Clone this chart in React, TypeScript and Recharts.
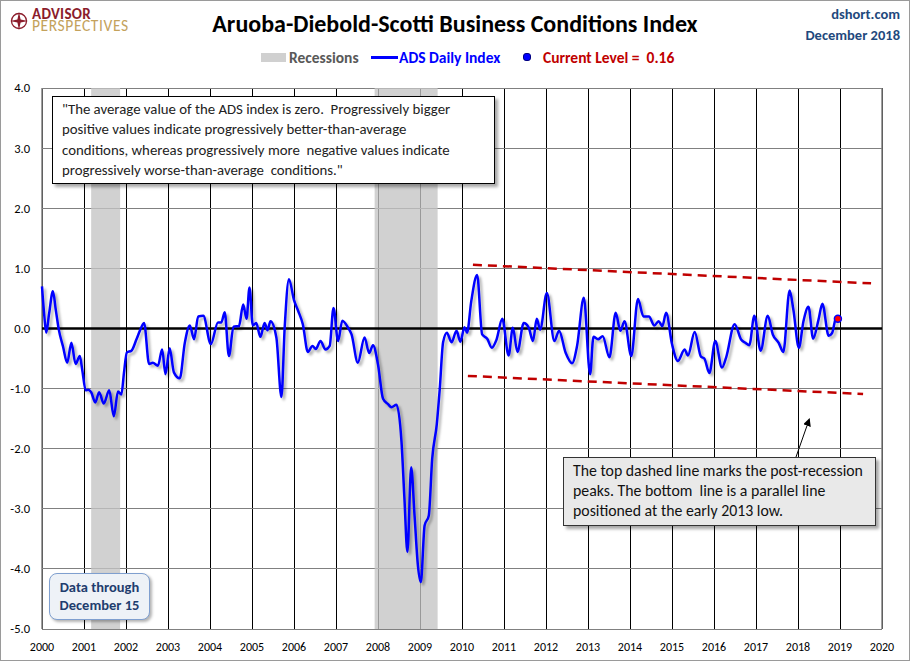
import React from 'react';
import {
  LineChart,
  Line,
  XAxis,
  YAxis,
  CartesianGrid,
  ReferenceArea,
  ReferenceLine,
  ReferenceDot,
} from 'recharts';

// ADS index (decimal years)
const years = [
  2000.0, 2000.05, 2000.1, 2000.17, 2000.26, 2000.33, 2000.4, 2000.5, 2000.6, 2000.7, 2000.8, 2000.9, 2000.96,
  2001.04, 2001.1, 2001.17, 2001.27, 2001.36, 2001.47, 2001.6, 2001.71, 2001.81, 2001.89, 2001.95,
  2002.02, 2002.13, 2002.25, 2002.33, 2002.43, 2002.55, 2002.64, 2002.76, 2002.86, 2002.94,
  2003.04, 2003.14, 2003.28, 2003.4, 2003.52, 2003.62, 2003.72, 2003.84,
  2004.02, 2004.19, 2004.27, 2004.35, 2004.45, 2004.56, 2004.69, 2004.79, 2004.87, 2004.94,
  2005.02, 2005.1, 2005.2, 2005.3, 2005.37, 2005.44, 2005.58, 2005.7, 2005.78, 2005.88,
  2006.0, 2006.1, 2006.21, 2006.33, 2006.44, 2006.52, 2006.63, 2006.75, 2006.85, 2006.94,
  2007.05, 2007.15, 2007.29, 2007.37, 2007.52, 2007.68, 2007.79, 2007.88,
  2008.0, 2008.12, 2008.24, 2008.32, 2008.44, 2008.56, 2008.63, 2008.7, 2008.79, 2008.87, 2008.95,
  2009.02, 2009.11, 2009.21, 2009.29, 2009.4, 2009.47, 2009.55, 2009.64, 2009.75, 2009.87, 2009.96,
  2010.06, 2010.12, 2010.22, 2010.36, 2010.48, 2010.6, 2010.71, 2010.82, 2010.96,
  2011.11, 2011.21, 2011.32, 2011.47, 2011.59, 2011.69, 2011.78, 2011.86,
  2012.02, 2012.2, 2012.31, 2012.47, 2012.62, 2012.74, 2012.9,
  2013.05, 2013.13, 2013.24, 2013.35, 2013.51, 2013.66, 2013.77, 2013.87,
  2014.03, 2014.19, 2014.32, 2014.45, 2014.58, 2014.68, 2014.77, 2014.86,
  2015.0, 2015.14, 2015.3, 2015.38, 2015.54, 2015.69, 2015.77, 2015.89,
  2016.03, 2016.19, 2016.29, 2016.49, 2016.65, 2016.75, 2016.84, 2016.96,
  2017.11, 2017.28, 2017.4, 2017.54, 2017.65, 2017.8, 2017.89,
  2018.02, 2018.13, 2018.25, 2018.36, 2018.49, 2018.58, 2018.73, 2018.81, 2018.91, 2018.95,
];

const adsValues = [
  0.7, 0.25, -0.07, 0.25, 0.62, 0.3, -0.02, -0.3, -0.57, -0.24, -0.59, -0.46, -0.7,
  -1.03, -1.02, -1.06, -1.23, -1.06, -1.25, -1.03, -1.46, -1.05, -1.1, -0.75,
  -0.4, -0.37, -0.18, -0.04, 0.09, -0.59, -0.57, -0.62, -0.35, -0.76,
  -0.33, -0.73, -0.83, -0.24, 0.05, -0.18, 0.2, 0.21,
  -0.26, 0.1, 0.1, 0.27, -0.46, 0.03, 0.04, 0.4, 0.16, 0.68,
  0.05, 0.09, -0.14, 0.09, -0.03, 0.12, -0.15, -1.14, 0.04, 0.82,
  0.47, 0.29, 0.07, -0.39, -0.29, -0.34, -0.21, -0.35, -0.29, 0.34,
  -0.21, 0.13, 0.01, -0.1, -0.57, -0.15, -0.41, -0.28,
  -0.6, -1.17, -1.26, -1.31, -1.27, -1.89, -2.84, -3.72, -2.31, -3.11, -3.94,
  -4.22, -3.28, -3.11, -2.17, -1.59, -1.01, -0.23, -0.07, -0.23, -0.04, -0.22,
  0.02, -0.07, 0.45, 0.89, -0.1, -0.17, -0.32, -0.19, 0.16,
  -0.45, 0.01, -0.39, 0.09, 0.01, -0.21, 0.16, -0.02,
  0.59, -0.21, -0.04, -0.41, -0.58, -0.29, 0.51,
  -0.76, -0.14, -0.18, -0.13, -0.48, 0.26, -0.04, 0.12,
  -0.46, 0.49, 0.2, 0.2, 0.05, 0.12, 0.04, 0.26,
  -0.26, -0.54, -0.35, -0.45, -0.06, -0.47, -0.5, -0.74,
  -0.21, -0.65, -0.48, 0.07, -0.19, -0.24, -0.28, 0.21,
  -0.37, 0.21, -0.1, -0.24, -0.39, 0.63, 0.31,
  -0.32, 0.12, 0.36, -0.17, 0.15, 0.41, -0.12, -0.08, 0.18, 0.16,
];

const recessions = [
  { start: 2001.17, end: 2001.86 },
  { start: 2007.92, end: 2009.42 },
];

const topTrend = [
  { year: 2010.26, value: 1.06 },
  { year: 2019.74, value: 0.75 },
];
const bottomTrend = [
  { year: 2010.14, value: -0.79 },
  { year: 2019.55, value: -1.09 },
];

const currentLevel = { year: 2018.95, value: 0.16 };

const yearTicks = [
  2000, 2001, 2002, 2003, 2004, 2005, 2006, 2007, 2008, 2009, 2010,
  2011, 2012, 2013, 2014, 2015, 2016, 2017, 2018, 2019, 2020,
];
const valueTicks = [-5, -4, -3, -2, -1, 0, 1, 2, 3, 4];

const chartData = years.map((year, i) => ({ year, ads: adsValues[i] }));

const FONT = "Carlito, Lato, 'Open Sans', sans-serif";

const pageCss = `
body{margin:0}
.ap-logo{white-space:pre;font-size:15.5px;font-weight:300;color:#c4a25c;line-height:11px;letter-spacing:0.6px}
.ap-logo::first-line{font-size:15px;font-weight:900;color:#8b1c2b;letter-spacing:0.3px}
`;

export default function App() {
  return (
    <div style={{ position: 'relative', width: 910, height: 661, background: '#fff', fontFamily: FONT }}>
      <style>{pageCss}</style>

      <LineChart
        width={910}
        height={661}
        data={chartData}
        margin={{ top: 88, right: 28, bottom: 0, left: 0 }}
      >
        <defs>
          <filter id="lineShadow" x="-5%" y="-5%" width="110%" height="110%">
            <feDropShadow dx="2.5" dy="2.5" stdDeviation="1.2" floodColor="#000" floodOpacity="0.3" />
          </filter>
        </defs>

        <CartesianGrid horizontal={false} stroke="#000" strokeWidth={1} shapeRendering="crispEdges" />
        <CartesianGrid vertical={false} stroke="#808080" strokeWidth={1} shapeRendering="crispEdges" />

        <XAxis
          type="number"
          dataKey="year"
          domain={[2000, 2020]}
          ticks={yearTicks}
          interval={0}
          height={32}
          tickSize={0}
          tickMargin={13}
          axisLine={false}
          tick={{ fontSize: 12, fill: '#000', fontFamily: FONT }}
        />
        <YAxis
          type="number"
          domain={[-5, 4]}
          ticks={valueTicks}
          interval={0}
          width={42}
          tickSize={0}
          tickMargin={12}
          axisLine={false}
          tickFormatter={(v: number) => v.toFixed(1)}
          tick={{ fontSize: 12.5, fill: '#000', fontFamily: FONT }}
        />

        {recessions.map((r) => (
          <ReferenceArea
            key={r.start}
            x1={r.start}
            x2={r.end}
            y1={-5}
            y2={4}
            fill="#c4c4c4"
            fillOpacity={0.78}
            stroke="none"
          />
        ))}

        <ReferenceLine x={2000} stroke="#808080" strokeWidth={1.5} />
        <ReferenceLine x={2020} stroke="#808080" strokeWidth={1.5} />
        <ReferenceLine y={0} stroke="#000" strokeWidth={2.5} />

        <ReferenceLine
          segment={[
            { x: topTrend[0].year, y: topTrend[0].value },
            { x: topTrend[1].year, y: topTrend[1].value },
          ]}
          stroke="#c00000"
          strokeWidth={2.5}
          strokeDasharray="9 6"
          ifOverflow="visible"
        />
        <ReferenceLine
          segment={[
            { x: bottomTrend[0].year, y: bottomTrend[0].value },
            { x: bottomTrend[1].year, y: bottomTrend[1].value },
          ]}
          stroke="#c00000"
          strokeWidth={2.5}
          strokeDasharray="9 6"
          ifOverflow="visible"
        />

        <Line
          type="monotone"
          dataKey="ads"
          stroke="#0000ff"
          strokeWidth={2.5}
          dot={false}
          filter="url(#lineShadow)"
          isAnimationActive={false}
        />

        <ReferenceDot
          x={currentLevel.year}
          y={currentLevel.value}
          r={3.5}
          fill="#ff0000"
          stroke="#0000ff"
          strokeWidth={1.5}
        />
      </LineChart>

      {/* logo */}
      <svg style={{ position: 'absolute', left: 10, top: 12 }} width={18} height={18} viewBox="0 0 18 18">
        <circle cx={9} cy={9} r={7.5} fill="none" stroke="#8b1c2b" strokeWidth={1.3} />
        <path d="M9 0 L10.6 7.4 L18 9 L10.6 10.6 L9 18 L7.4 10.6 L0 9 L7.4 7.4 Z" fill="#8b1c2b" />
      </svg>
      <div className="ap-logo" style={{ position: 'absolute', left: 32, top: 9 }}>
        {'ADVISOR\nPERSPECTIVES'}
      </div>

      {/* title */}
      <div style={{ position: 'absolute', left: 0, width: 910, top: 9, textAlign: 'center', fontSize: 24, fontWeight: 700, color: '#000', whiteSpace: 'nowrap' }}>
        Aruoba-Diebold-Scotti Business Conditions Index
      </div>
      <div style={{ position: 'absolute', right: 10, top: 4, fontSize: 14.5, fontWeight: 700, color: '#1f497d', textAlign: 'right', lineHeight: '21px' }}>
        dshort.com
        <br />
        December 2018
      </div>

      {/* legend */}
      <div style={{ position: 'absolute', left: 261, top: 53, width: 25, height: 9, background: '#d0d0d0' }} />
      <div style={{ position: 'absolute', left: 289, top: 48, fontSize: 15.5, fontWeight: 700, color: '#595959' }}>Recessions</div>
      <div style={{ position: 'absolute', left: 371, top: 56, width: 27, height: 2.5, background: '#0000ff' }} />
      <div style={{ position: 'absolute', left: 399, top: 48, fontSize: 15.5, fontWeight: 700, color: '#0000ff' }}>ADS Daily Index</div>
      <div style={{ position: 'absolute', left: 523, top: 53, width: 6, height: 6, borderRadius: 3, background: '#0000ff', border: '0.5px solid #000080' }} />
      <div style={{ position: 'absolute', left: 543, top: 48, fontSize: 15.5, fontWeight: 700, color: '#c00000', whiteSpace: 'pre' }}>Current Level =  0.16</div>

      {/* quote box */}
      <div
        style={{
          position: 'absolute',
          left: 52,
          top: 96,
          width: 443,
          height: 88,
          boxSizing: 'border-box',
          border: '1px solid #000',
          background: '#fff',
          boxShadow: '3px 3px 3px rgba(0,0,0,0.35)',
          padding: '2px 0 0 9px',
          fontSize: 14.8,
          lineHeight: '20.3px',
          color: '#222',
          whiteSpace: 'pre',
        }}
      >
        {'"The average value of the ADS index is zero.  Progressively bigger'}
        <br />
        {'positive values indicate progressively better-than-average'}
        <br />
        {'conditions, whereas progressively more  negative values indicate'}
        <br />
        {'progressively worse-than-average  conditions."'}
      </div>

      {/* arrow to the bottom line */}
      <svg style={{ position: 'absolute', left: 0, top: 0, pointerEvents: 'none' }} width={910} height={661}>
        <defs>
          <marker id="arrowHead" markerWidth="8" markerHeight="8" refX="6" refY="4" orient="auto">
            <path d="M0 0 L8 4 L0 8 Z" fill="#000" />
          </marker>
        </defs>
        <line x1={796} y1={457} x2={809} y2={420} stroke="#000" strokeWidth={1} markerEnd="url(#arrowHead)" />
      </svg>

      {/* note box */}
      <div
        style={{
          position: 'absolute',
          left: 563,
          top: 457,
          width: 313,
          height: 69,
          boxSizing: 'border-box',
          border: '1px solid #333',
          background: '#e9e9e9',
          boxShadow: '3px 3px 3px rgba(0,0,0,0.35)',
          padding: '3px 0 0 9px',
          fontSize: 15.8,
          lineHeight: '20px',
          color: '#111',
          whiteSpace: 'pre',
        }}
      >
        {'The top dashed line marks the post-recession'}
        <br />
        {'peaks. The bottom  line is a parallel line'}
        <br />
        {'positioned at the early 2013 low.'}
      </div>

      {/* data through box */}
      <div
        style={{
          position: 'absolute',
          left: 49,
          top: 573,
          width: 101,
          height: 47,
          boxSizing: 'border-box',
          border: '1.5px solid #7f9fcf',
          borderRadius: 8,
          background: '#eef2f7',
          boxShadow: '2px 2px 3px rgba(0,0,0,0.3)',
          textAlign: 'center',
          paddingTop: 4,
          fontSize: 14.5,
          fontWeight: 700,
          lineHeight: '18px',
          color: '#1f3d6e',
          whiteSpace: 'nowrap',
        }}
      >
        Data through
        <br />
        December 15
      </div>

      {/* outer frame */}
      <div style={{ position: 'absolute', left: 0, top: 0, width: 910, height: 661, boxSizing: 'border-box', border: '1px solid #9a9a9a', pointerEvents: 'none' }} />
    </div>
  );
}
